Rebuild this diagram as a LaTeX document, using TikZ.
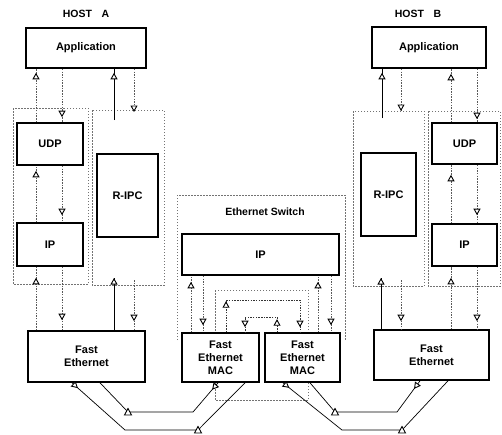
\documentclass[tikz,border=0pt]{standalone}
\usepackage{fontspec}
\setmainfont{Liberation Sans}
\usetikzlibrary{arrows.meta,decorations.markings}
\begin{document}
\begin{tikzpicture}[x=1pt,y=-1pt,
  box/.style={draw, line width=1.6pt, fill=white, font=\bfseries\fontsize{11}{13}\selectfont, align=center, inner sep=1pt},
  lbl/.style={font=\bfseries\fontsize{10.5}{12}\selectfont, inner sep=0pt},
  grp/.style={draw=black!55, line width=0.6pt, dash pattern=on 1.5pt off 1.5pt},
  dsh/.style={draw=black!65, line width=0.6pt, dash pattern=on 1.5pt off 1.2pt},
  sol/.style={draw=black, line width=0.7pt},
  tipat/.style={postaction={decorate,decoration={markings,mark=at position #1 with {\arrow{Triangle[fill=white,color=black,length=6.5pt,width=7pt,line width=0.9pt]}}}}},
  uptri/.pic={\draw[black,solid,fill=white,line width=0.9pt] (-3.5,3)--(3.5,3)--(0,-3.5)--cycle;}
]
\useasboundingbox (0,0) rectangle (502,434);

% group boxes
\draw[grp] (13,108) rectangle (88,284);
\draw[grp] (92,110) rectangle (164,285);
\draw[grp] (353,111) rectangle (424,286);
\draw[grp] (428,111) rectangle (500,286);
\draw[grp] (177,340) -- (177,195) -- (345,195) -- (345,340);
\draw[grp] (215,290) rectangle (308,400);

% labels
\node[lbl] (hostA) at (86,14) {HOST\hspace{0.9em}A};
\node[lbl] (hostB) at (418,14) {HOST\hspace{0.9em}B};
\node[lbl] (swl) at (265,212) {Ethernet Switch};

% host A
\node[box, minimum width=120pt, minimum height=40pt] (appA) at (86,48) {Application};
\node[box, minimum width=66pt, minimum height=42pt] (udpA) at (50,144) {UDP};
\node[box, minimum width=66pt, minimum height=43pt] (ipA) at (50,244.5) {IP};
\node[box, minimum width=61pt, minimum height=83pt] (rpcA) at (127.5,195.5) {R-IPC};
\node[box, minimum width=117pt, minimum height=51pt] (feA) at (86.5,356.5) {Fast\\Ethernet};

% host B
\node[box, minimum width=114pt, minimum height=41pt] (appB) at (429,47.5) {Application};
\node[box, minimum width=65pt, minimum height=41pt] (udpB) at (464.5,143.5) {UDP};
\node[box, minimum width=65pt, minimum height=42pt] (ipB) at (464.5,245) {IP};
\node[box, minimum width=55pt, minimum height=83pt] (rpcB) at (388.5,194.5) {R-IPC};
\node[box, minimum width=115pt, minimum height=50pt] (feB) at (431.5,355) {Fast\\Ethernet};

% switch
\node[box, minimum width=157pt, minimum height=41pt] (ipS) at (260.5,254.5) {IP};
\node[box, minimum width=77pt, minimum height=49pt] (mac1) at (220.5,357.5) {Fast\\Ethernet\\MAC};
\node[box, minimum width=75pt, minimum height=49pt] (mac2) at (302.5,357.5) {Fast\\Ethernet\\MAC};

% x positions
\coordinate (xA1) at (36,0);  \coordinate (xA2) at (62,0);
\coordinate (xB3) at (451,0); \coordinate (xB4) at (477,0);
\coordinate (xS1) at (191,0); \coordinate (xS2) at (203,0);
\coordinate (xS3) at (318,0); \coordinate (xS4) at (331,0);

% host A connectors
\draw[dsh,tipat=-4pt] (udpA.north -| xA1) -- (appA.south -| xA1);
\draw[dsh,tipat=-5pt] (appA.south -| xA2) -- (udpA.north -| xA2);
\coordinate (rA1) at (114,120);
\draw[sol,tipat=-4pt] (rA1) -- (appA.south -| rA1);
\coordinate (rA2) at (134,112);
\draw[dsh,tipat=1] (appA.south -| rA2) -- (rA2);
\draw[dsh,tipat=-5pt] (ipA.north -| xA1) -- (udpA.south -| xA1);
\draw[dsh,tipat=-7pt] (udpA.south -| xA2) -- (ipA.north -| xA2);
\draw[dsh,tipat=-11pt] (feA.north -| xA1) -- (ipA.south -| xA1);
\draw[dsh,tipat=-10pt] (ipA.south -| xA2) -- (feA.north -| xA2);
\coordinate (rA3) at (114,278);
\draw[sol,tipat=1] (feA.north -| rA3) -- (rA3);
\coordinate (rA4) at (134,280);
\draw[dsh,tipat=-9pt] (rA4) -- (feA.north -| rA4);

% host B connectors
\coordinate (rB1) at (382,118);
\draw[sol,tipat=-4pt] (rB1) -- (appB.south -| rB1);
\coordinate (rB2) at (401,111);
\draw[dsh,tipat=1] (appB.south -| rB2) -- (rB2);
\draw[dsh,tipat=-5pt] (udpB.north -| xB3) -- (appB.south -| xB3);
\draw[dsh,tipat=-3pt] (appB.south -| xB4) -- (udpB.north -| xB4);
\draw[dsh,tipat=-10pt] (ipB.north -| xB3) -- (udpB.south -| xB3);
\draw[dsh,tipat=-8pt] (udpB.south -| xB4) -- (ipB.north -| xB4);
\draw[dsh,tipat=-11pt] (feB.north -| xB3) -- (ipB.south -| xB3);
\draw[dsh,tipat=-8pt] (ipB.south -| xB4) -- (feB.north -| xB4);
\coordinate (rB3) at (381,278);
\draw[sol,tipat=1] (feB.north -| rB3) -- (rB3);
\coordinate (rB4) at (401,280);
\draw[dsh,tipat=-8pt] (rB4) -- (feB.north -| rB4);

% switch connectors
\draw[dsh,tipat=-6pt] (mac1.north -| xS1) -- (ipS.south -| xS1);
\draw[dsh,tipat=-7pt] (ipS.south -| xS2) -- (mac1.north -| xS2);
\draw[dsh,tipat=-6pt] (mac2.north -| xS3) -- (ipS.south -| xS3);
\draw[dsh,tipat=-7pt] (ipS.south -| xS4) -- (mac2.north -| xS4);
\coordinate (lm1) at (226,300); \coordinate (lm2) at (300,300);
\draw[dsh,draw=black!80,tipat=31pt,tipat=-5pt] (mac1.north -| lm1) -- (lm1) -- (lm2) -- (mac2.north -| lm2);
\coordinate (li1) at (277,317); \coordinate (li2) at (245,317);
\draw[dsh,draw=black!80,tipat=13pt,tipat=-5pt] (mac2.north -| li1) -- (li1) -- (li2) -- (mac1.north -| li2);

% bottom links
\coordinate (xo1) at (72,0);  \coordinate (xo2) at (245,0);
\coordinate (oA1) at (125,430); \coordinate (oA2) at (198,430);
\draw[sol,tipat=8pt] (feA.south -| xo1) -- (oA1) -- (oA2) -- (mac1.south -| xo2);
\pic at (oA2) {uptri};
\coordinate (xi1) at (100,0);  \coordinate (xi2) at (218,0);
\coordinate (iA1) at (193,412); \coordinate (iA2) at (128,412);
\draw[sol,tipat=9pt] (mac1.south -| xi2) -- (iA1) -- (iA2) -- (feA.south -| xi1);
\pic at (iA2) {uptri};

\coordinate (xo3) at (283,0);  \coordinate (xo4) at (448,0);
\coordinate (oB1) at (342,430); \coordinate (oB2) at (402,430);
\draw[sol,tipat=8pt] (mac2.south -| xo3) -- (oB1) -- (oB2) -- (feB.south -| xo4);
\pic at (oB2) {uptri};
\coordinate (xi3) at (310,0);  \coordinate (xi4) at (420,0);
\coordinate (iB1) at (397,412); \coordinate (iB2) at (335,412);
\draw[sol,tipat=10pt] (feB.south -| xi4) -- (iB1) -- (iB2) -- (mac2.south -| xi3);
\pic at (iB2) {uptri};
\end{tikzpicture}
\end{document}
